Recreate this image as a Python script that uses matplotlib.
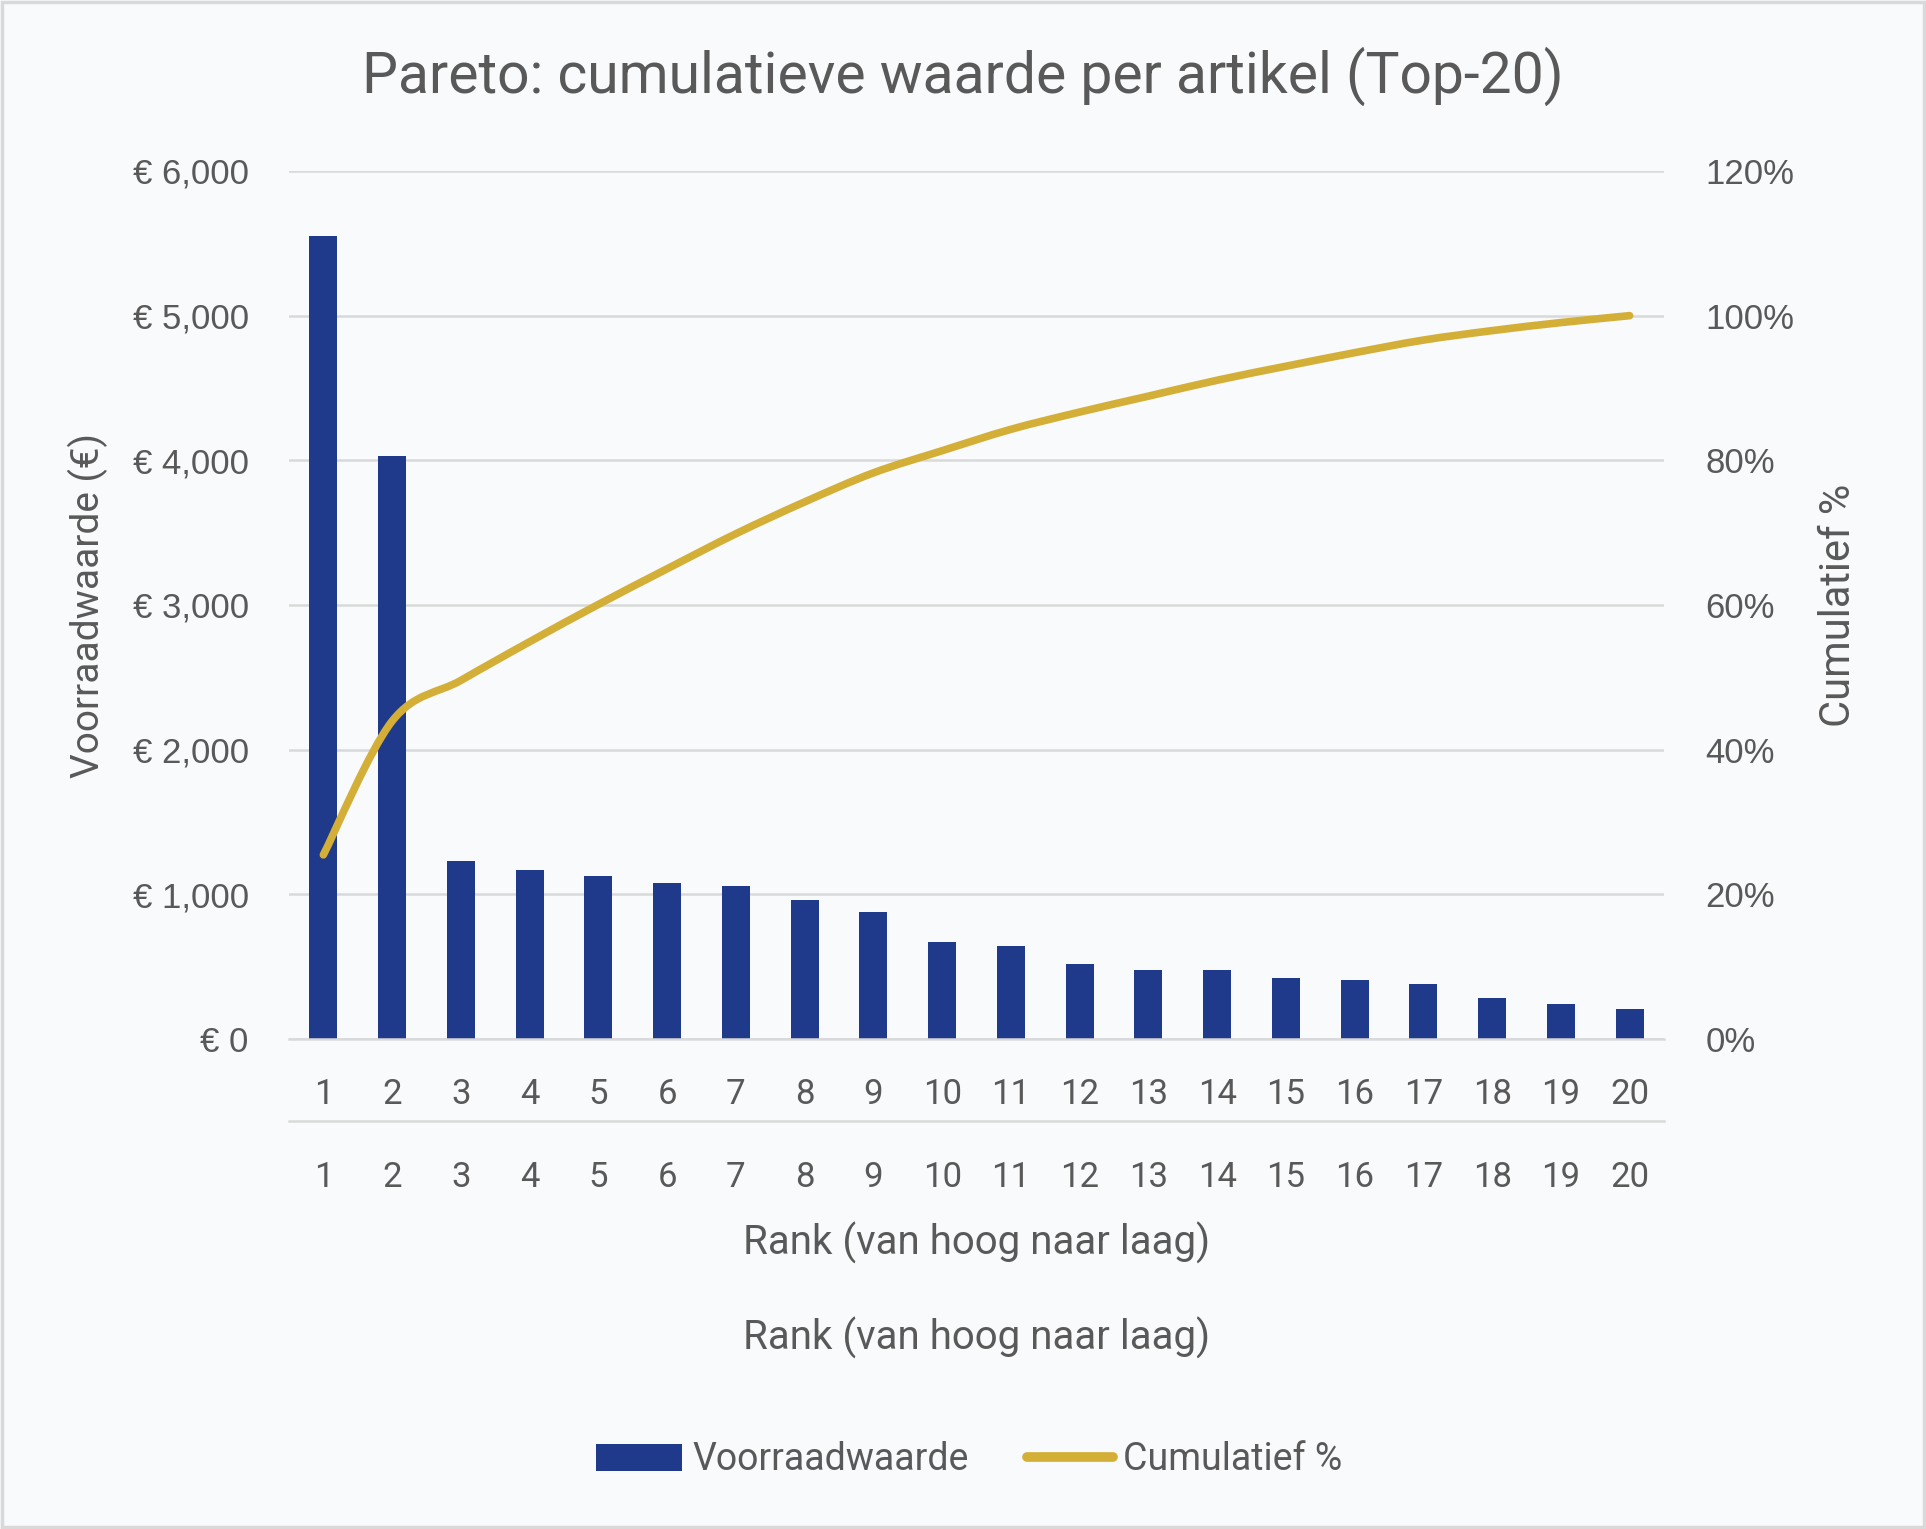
import numpy as np
import matplotlib
matplotlib.use("Agg")
import matplotlib.pyplot as plt
from matplotlib import font_manager
from matplotlib.path import Path
from matplotlib.patches import PathPatch, Rectangle, Patch
from matplotlib.lines import Line2D
from matplotlib.ticker import FuncFormatter

# data
ranks = list(range(1, 21))
waarde = [5550, 4030, 1228, 1165, 1124, 1075, 1056, 959, 876, 668,
          644, 521, 479, 479, 423, 408, 380, 285, 243, 208]
y_ticks = [0, 1000, 2000, 3000, 4000, 5000, 6000]
pct_ticks = [0, 0.2, 0.4, 0.6, 0.8, 1.0, 1.2]

cum = np.cumsum(waarde) / np.sum(waarde)

installed = {f.name for f in font_manager.fontManager.ttflist}
narrow = "Liberation Sans Narrow" if "Liberation Sans Narrow" in installed else "Roboto"
wide = "Liberation Sans"

TXT = "#595959"
BLUE = "#1F3A8A"
GOLD = "#D4AF37"
GRID = "#D9D9D9"
BG = "#F8FAFC"

fig = plt.figure(figsize=(19.26, 15.29), dpi=100, facecolor=BG)
fig.patches.append(Rectangle((0.001, 0.001), 0.998, 0.998, transform=fig.transFigure,
                             fill=False, edgecolor=GRID, linewidth=2.5))

ax = fig.add_axes([289 / 1926, 1 - 1039 / 1529, 1375 / 1926, 868 / 1529])
ax.set_facecolor(BG)
ax.bar(ranks, waarde, width=0.41, color=BLUE, zorder=2)
ax.set_xlim(0.5, 20.5)
ax.set_ylim(0, 6000)
ax.set_yticks(y_ticks)
ax.yaxis.set_major_formatter(FuncFormatter(lambda v, p: "€ {:,.0f}".format(v)))
ax.grid(axis="y", color=GRID, linewidth=1.8)
ax.set_axisbelow(True)
for s in ["top", "left", "right"]:
    ax.spines[s].set_visible(False)
ax.spines["bottom"].set_color(GRID)
ax.spines["bottom"].set_linewidth(1.8)
ax.set_xticks(ranks)
ax.tick_params(axis="x", length=0, pad=28, labelcolor=TXT)
ax.tick_params(axis="y", length=0, pad=29, labelcolor=TXT, labelsize=25)
for lab in ax.get_xticklabels():
    lab.set_fontfamily(narrow)
    lab.set_fontsize(25)
for lab in ax.get_yticklabels():
    lab.set_fontfamily(wide)

ax.set_ylabel("Voorraadwaarde (€)", fontsize=28, color=TXT, family=narrow, va="center")
ax.yaxis.set_label_coords(-0.146, 0.5)
ax.set_xlabel("Rank (van hoog naar laag)", fontsize=29, color=TXT, family=narrow, va="center")
ax.xaxis.set_label_coords(0.5, -0.235)

# second category axis below
sec = ax.secondary_xaxis(-0.0945)
sec.set_xticks(ranks)
sec.spines["bottom"].set_color(GRID)
sec.spines["bottom"].set_linewidth(1.8)
sec.tick_params(length=0, pad=29, labelcolor=TXT)
for lab in sec.get_xticklabels():
    lab.set_fontfamily(narrow)
    lab.set_fontsize(25)
fig.text(0.5 * (289 + 1664) / 1926, 1 - 1338 / 1529, "Rank (van hoog naar laag)",
         fontsize=29, color=TXT, family=narrow, ha="center", va="center")

ax2 = ax.twinx()
ax2.set_ylim(0, 1.2)
ax2.set_yticks(pct_ticks)
ax2.yaxis.set_major_formatter(FuncFormatter(lambda v, p: "{:.0f}%".format(v * 100)))
ax2.tick_params(axis="y", length=0, pad=30, labelcolor=TXT, labelsize=25)
for lab in ax2.get_yticklabels():
    lab.set_fontfamily(wide)
for s in ax2.spines.values():
    s.set_visible(False)
ax2.set_ylabel("Cumulatief %", fontsize=30, color=TXT, family=narrow, va="center", rotation=90)
ax2.yaxis.set_label_coords(1.127, 0.5)

# smoothed line (cardinal bezier, like the spreadsheet's smooth line)
xs = np.array(ranks, dtype=float)
pts = np.column_stack([xs, cum])
verts = [tuple(pts[0])]
codes = [Path.MOVETO]
n = len(pts)
for i in range(n - 1):
    p0 = pts[max(i - 1, 0)]
    p1 = pts[i]
    p2 = pts[i + 1]
    p3 = pts[min(i + 2, n - 1)]
    c1 = p1 + (p2 - p0) / 6
    c2 = p2 - (p3 - p1) / 6
    verts += [tuple(c1), tuple(c2), tuple(p2)]
    codes += [Path.CURVE4] * 3
ax2.add_patch(PathPatch(Path(verts, codes), fill=False, edgecolor=GOLD,
                        linewidth=5.5, capstyle="round", joinstyle="round", zorder=3))

fig.text(0.5, 1 - 76 / 1529, "Pareto: cumulatieve waarde per artikel (Top-20)",
         fontsize=41, color=TXT, family=narrow, ha="center", va="center")

handles = [Patch(facecolor=BLUE, edgecolor="none"),
           Line2D([0], [0], color=GOLD, linewidth=7, solid_capstyle="round")]
leg = fig.legend(handles, ["Voorraadwaarde", "Cumulatief %"], loc="center",
                 bbox_to_anchor=(969 / 1926, 1 - 1460 / 1529), ncol=2, frameon=False,
                 prop={"family": narrow, "size": 27}, handlelength=2.3,
                 handletextpad=0.27, columnspacing=1.55)
for t in leg.get_texts():
    t.set_color(TXT)

fig.savefig("out.png", dpi=100, facecolor=BG)
